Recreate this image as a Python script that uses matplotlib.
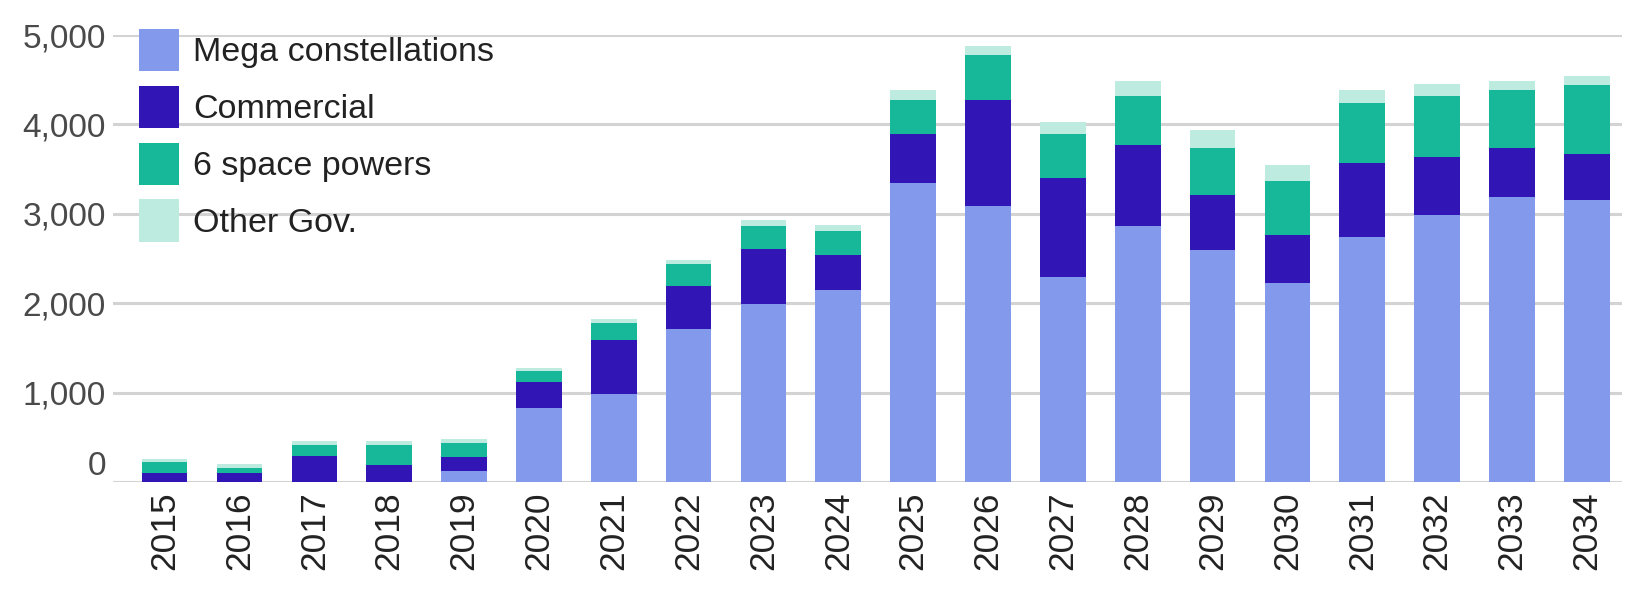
import numpy as np
import matplotlib
matplotlib.use('Agg')
import matplotlib.pyplot as plt
from matplotlib.transforms import ScaledTranslation

plt.rcParams['font.family'] = ['Liberation Sans', 'DejaVu Sans']

# данные
years = [str(y) for y in range(2015, 2035)]
mega = [0, 0, 0, 0, 128, 823, 983, 1714, 1995, 2152,
        3340, 3090, 2291, 2860, 2600, 2225, 2735, 2990, 3185, 3155]
commercial = [100, 100, 291, 194, 157, 291, 604, 474, 608, 388,
              555, 1188, 1109, 907, 612, 540, 830, 645, 548, 514]
six_powers = [128, 61, 119, 216, 155, 123, 197, 255, 265, 266,
              383, 493, 495, 549, 521, 600, 679, 681, 647, 771]
other_gov = [33, 37, 45, 45, 40, 37, 34, 35, 63, 64,
             109, 101, 135, 165, 203, 180, 143, 131, 101, 105]

labels = ['Mega constellations', 'Commercial', '6 space powers', 'Other Gov.']
colors = ['#8399EC', '#3115B5', '#17B899', '#BDEBE0']
yticks = [0, 1000, 2000, 3000, 4000, 5000]

fig = plt.figure(figsize=(16.51, 6.09), dpi=100)
ax = fig.add_axes([113 / 1651, 1 - 482 / 609, (1622 - 113) / 1651, (482 - 35) / 609])

x = np.arange(len(years))
bottom = np.zeros(len(years))
for vals, lab, col in zip([mega, commercial, six_powers, other_gov], labels, colors):
    ax.bar(x, vals, width=0.61, bottom=bottom, color=col, label=lab, zorder=3)
    bottom += np.array(vals)

ax.set_ylim(0, 5000)
ax.set_xlim(-0.69, len(years) - 0.53)
ax.set_yticks(yticks)
ax.set_yticklabels([f'{v:,}' for v in yticks])
ax.set_xticks(x)
ax.set_xticklabels(years, rotation=90)

ax.grid(axis='y', color='#d3d3d3', linewidth=2.2, zorder=0)
ax.grid(axis='x', visible=False)
for s in ax.spines.values():
    s.set_visible(False)
ax.tick_params(axis='y', length=0, pad=5, labelsize=24, labelcolor='#4a4a4a')
ax.tick_params(axis='x', length=0, pad=7, labelsize=25.5, labelcolor='#222222')

# метка "0" в оригинале немного приподнята
zero_lab = ax.get_yticklabels()[0]
zero_lab.set_transform(zero_lab.get_transform() + ScaledTranslation(0, 19 / 100, fig.dpi_scale_trans))

leg = ax.legend(loc='upper left', bbox_to_anchor=(139 / 1651, 1 - 29 / 609),
                bbox_transform=fig.transFigure, frameon=False, fontsize=24.5,
                handlelength=1.18, handleheight=1.53, labelspacing=0.43,
                handletextpad=0.4, borderpad=0, borderaxespad=0)
for t in leg.get_texts():
    t.set_color('#222222')

fig.savefig('out.png', dpi=100)
